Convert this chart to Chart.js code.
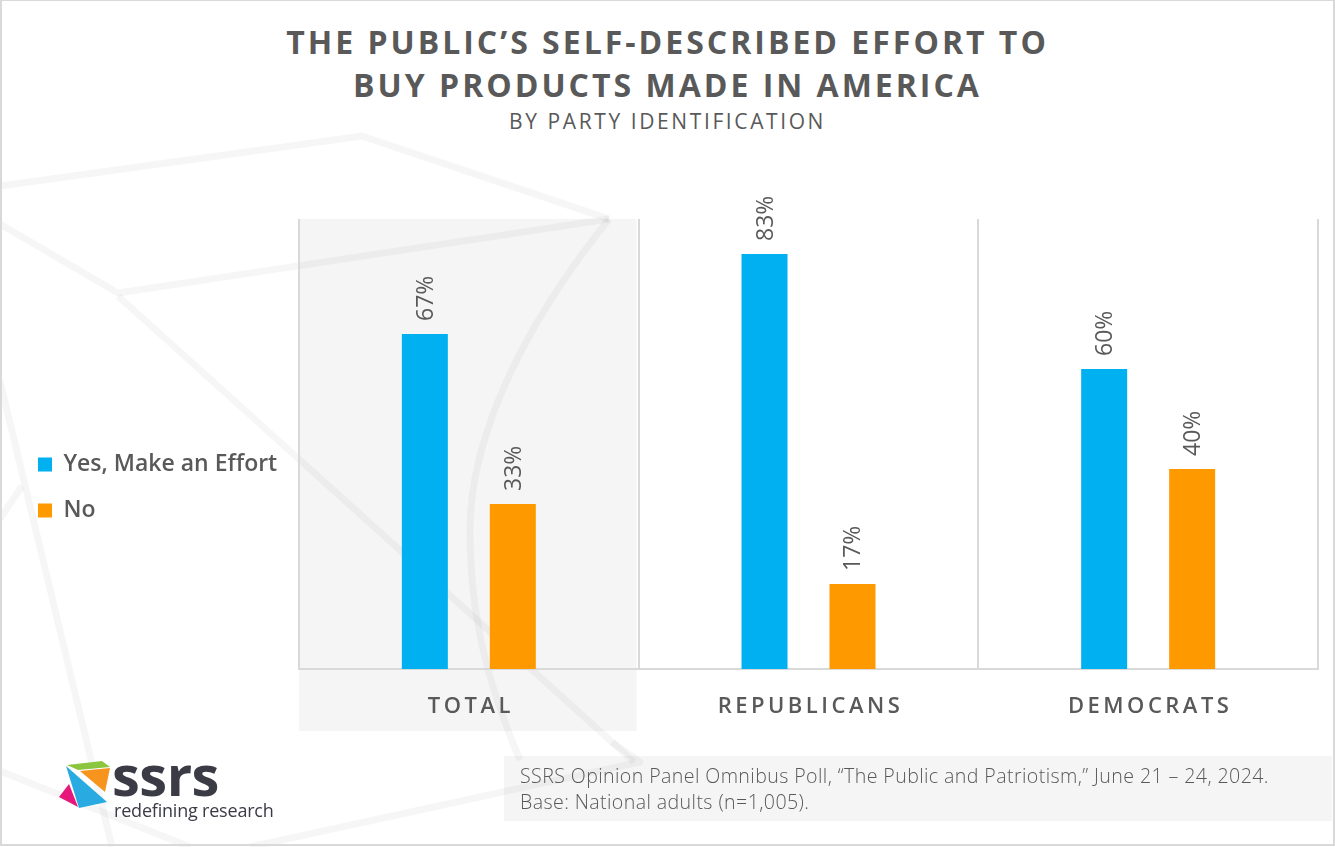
<!DOCTYPE html>
<html>
<head>
<meta charset="utf-8">
<script src="https://cdn.jsdelivr.net/npm/chart.js@4.4.1/dist/chart.umd.min.js"></script>
<style>
  html, body { margin: 0; padding: 0; background: #fff; }
  #wrap { position: relative; width: 1335px; height: 847px; overflow: hidden; font-family: 'Open Sans', sans-serif; color: #595959; }
  #bg, #chart, #logo { position: absolute; left: 0; top: 0; }
  #frame { position: absolute; left: 0; top: 0; width: 1331px; height: 843px; border: 2px solid #d9d9d9; border-top-width: 1px; pointer-events: none; }
  #title { position: absolute; left: 0; top: 20px; width: 1335px; text-align: center; font-weight: 700; font-size: 32px; line-height: 43px; letter-spacing: 3px; }
  #subtitle { position: absolute; left: 0; top: 107px; width: 1335px; text-align: center; font-size: 21px; line-height: 28px; letter-spacing: 2.6px; }
  #source { position: absolute; left: 504px; top: 756px; width: 812px; height: 58px; padding: 7px 0 0 16px; background: rgba(0,0,0,0.04); font-size: 19.6px; font-weight: 300; line-height: 26px; letter-spacing: 0.4px; }
</style>
</head>
<body>
<div id="wrap">
  <svg id="bg" width="1335" height="847">
    <g fill="none" stroke="rgba(0,0,0,0.035)" stroke-width="7" stroke-linejoin="round">
      <polyline points="0,186 362,136 609,219" />
      <polyline points="0,224 118,293 609,219" />
      <polyline points="118,296 402,552 634,762" />
      <path d="M609,219 C520,330 470,440 470,530 C470,620 490,690 520,760" />
      <polyline points="0,381 112,847" />
      <polyline points="0,519 22,486" />
      <polyline points="0,771 190,847" />
      <polyline points="612,742 640,762 250,847" />
    </g>
  </svg>
  <div id="title">THE PUBLIC’S SELF-DESCRIBED EFFORT TO<br>BUY PRODUCTS MADE IN AMERICA</div>
  <div id="subtitle">BY PARTY IDENTIFICATION</div>
  <canvas id="chart" width="1335" height="847"></canvas>
  <svg id="logo" width="1335" height="847">
    <polygon points="67,765 102,761 110,767 78,770" fill="#8cc63f" />
    <polygon points="80,771 110,768 105,792" fill="#f7941d" />
    <polygon points="66,766 107,802 79,808" fill="#29abe2" />
    <polygon points="69,784 78,807 59,797" fill="#e6197a" />
    <text x="112" y="796" font-family="Open Sans" font-weight="700" font-size="56" letter-spacing="-0.5" fill="#3b3b45">ssrs</text>
    <text x="114" y="817" font-family="Open Sans" font-size="18" letter-spacing="-0.2" fill="#3b3b45">redefining research</text>
  </svg>
  <div id="source">SSRS Opinion Panel Omnibus Poll, “The Public and Patriotism,” June 21 – 24, 2024.<br>Base: National adults (n=1,005).</div>
  <div id="frame"></div>
</div>
<script>
// data
const categories = ['TOTAL', 'REPUBLICANS', 'DEMOCRATS'];
const seriesNames = ['Yes, Make an Effort', 'No'];
const yesValues = [67, 83, 60];
const noValues = [33, 17, 40];
const yMax = 90;

const textColor = '#595959';
const lineColor = '#d9d9d9';

// shaded box behind the TOTAL column
const highlightPlugin = {
  id: 'highlight',
  beforeDraw(chart) {
    const x = chart.scales.x;
    const half = (x.getPixelForValue(1) - x.getPixelForValue(0)) / 2;
    const left = x.getPixelForValue(0) - half;
    const ctx = chart.ctx;
    ctx.save();
    ctx.fillStyle = 'rgba(0,0,0,0.04)';
    ctx.fillRect(left, chart.chartArea.top, half * 2 - 2, x.top + 62 - chart.chartArea.top);
    ctx.restore();
  }
};

// spaced-out category labels under the axis
const categoryLabels = {
  id: 'categoryLabels',
  afterDraw(chart) {
    const x = chart.scales.x;
    const ctx = chart.ctx;
    ctx.save();
    ctx.font = '600 22px "Open Sans"';
    ctx.letterSpacing = '3.5px';
    ctx.fillStyle = textColor;
    ctx.textAlign = 'center';
    ctx.textBaseline = 'middle';
    categories.forEach((c, i) => {
      ctx.fillText(c, x.getPixelForValue(i) + 2, x.top + 38);
    });
    ctx.restore();
  }
};

// rotated value labels above bars
const valueLabels = {
  id: 'valueLabels',
  afterDatasetsDraw(chart) {
    const ctx = chart.ctx;
    ctx.save();
    ctx.font = '23px "Open Sans"';
    ctx.fillStyle = textColor;
    ctx.textAlign = 'left';
    ctx.textBaseline = 'alphabetic';
    chart.data.datasets.forEach((ds, di) => {
      chart.getDatasetMeta(di).data.forEach((bar, i) => {
        ctx.save();
        ctx.translate(bar.x, bar.y - 13);
        ctx.rotate(-Math.PI / 2);
        ctx.fillText(ds.data[i] + '%', 0, 8);
        ctx.restore();
      });
    });
    ctx.restore();
  }
};

const chart = new Chart(document.getElementById('chart'), {
  type: 'bar',
  data: {
    labels: categories,
    datasets: [
      { label: seriesNames[0], data: yesValues, backgroundColor: '#00b0f0', borderWidth: 0 },
      { label: seriesNames[1], data: noValues, backgroundColor: '#ff9900', borderWidth: 0 }
    ]
  },
  options: {
    responsive: false,
    animation: false,
    layout: { padding: { left: 15, right: 17, top: 219, bottom: 91 } },
    datasets: { bar: { categoryPercentage: 0.518, barPercentage: 0.523 } },
    plugins: {
      legend: {
        position: 'left',
        labels: {
          boxWidth: 14,
          boxHeight: 14,
          padding: 23,
          color: textColor,
          font: { family: 'Open Sans', size: 23, weight: '600' }
        }
      },
      tooltip: { enabled: false }
    },
    scales: {
      x: {
        grid: { color: lineColor, lineWidth: 2, drawTicks: false, offset: true },
        border: { color: lineColor, width: 2 },
        ticks: { display: false },
        afterFit(s) { s.height = 87; }
      },
      y: {
        min: 0,
        max: yMax,
        grid: { display: false },
        border: { display: false },
        ticks: { display: false },
        afterFit(s) { s.width = 299 - 15 - s.chart.legend.width; }
      }
    }
  },
  plugins: [highlightPlugin, categoryLabels, valueLabels]
});
</script>
</body>
</html>
